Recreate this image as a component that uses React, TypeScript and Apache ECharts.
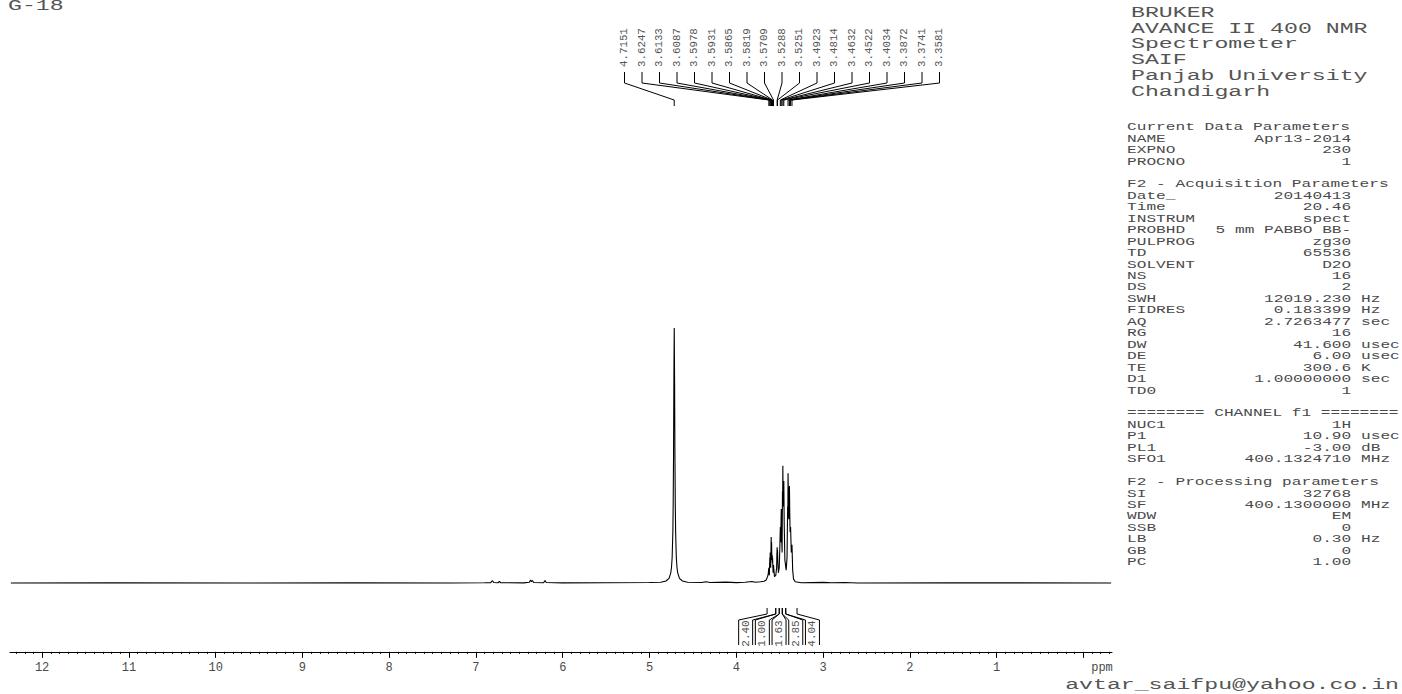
import React, { useEffect, useRef } from "react";
import * as echarts from "echarts";

// ---------- data ----------
const sampleName = "G-18";
const footerText = "avtar_saifpu@yahoo.co.in";
const axisUnit = "ppm";

// x axis (ppm, drawn right-to-left)
const ppmMin = -0.33;
const ppmMax = 12.37;
const majorTickValues = [0, 1, 2, 3, 4, 5, 6, 7, 8, 9, 10, 11, 12];
const axisLabelValues = [1, 2, 3, 4, 5, 6, 7, 8, 9, 10, 11, 12];

// spectrum segments: [ppm, intensity] (water peak top = 100)
const baselineLeft = [
  [12.36, 0], [11.2, 0.05], [9.6, 0], [8.4, 0.05], [7.3, 0], [6.9, 0.1],
];
const aromaticBumps = [
  [6.83, 0.15], [6.81, 0.9], [6.795, 0.2], [6.745, 0.1], [6.73, 0.6], [6.715, 0.1],
  [6.45, 0.05], [6.385, 0.3], [6.37, 1.2], [6.36, 0.5], [6.35, 1.0], [6.335, 0.2],
  [6.22, 0.1], [6.205, 1.0], [6.19, 0.2], [6.0, 0.05], [5.5, 0.1], [5.0, 0.2],
];
const waterPeak = [
  [4.87, 0.3], [4.81, 0.8], [4.775, 1.8], [4.755, 4], [4.747, 6], [4.739, 10],
  [4.731, 20], [4.727, 31], [4.723, 50], [4.719, 80], [4.7151, 100], [4.711, 80],
  [4.707, 50], [4.703, 31], [4.699, 20], [4.691, 10], [4.683, 6], [4.675, 4],
  [4.655, 1.8], [4.62, 0.8], [4.56, 0.3],
];
const midBumps = [
  [4.4, 0.2], [4.35, 0.5], [4.3, 0.2], [4.12, 0.35], [4.0, 0.15], [3.9, 0.3],
  [3.82, 0.6], [3.78, 0.3], [3.72, 0.5], [3.68, 0.7],
];
const sugarCluster = [
  [3.655, 1.2], [3.64, 2.5], [3.632, 3.5], [3.6247, 6], [3.619, 3], [3.6133, 10],
  [3.611, 7], [3.6087, 12], [3.603, 6], [3.5978, 18], [3.5955, 12], [3.5931, 16],
  [3.59, 9], [3.5865, 11], [3.584, 8], [3.5819, 10], [3.576, 4], [3.5709, 7],
  [3.56, 2.5], [3.545, 3], [3.535, 6], [3.532, 11], [3.5288, 14], [3.527, 10],
  [3.5251, 13], [3.522, 9], [3.515, 4], [3.505, 6], [3.498, 14], [3.4923, 22],
  [3.487, 16], [3.4835, 26], [3.4814, 29], [3.478, 20], [3.472, 12], [3.4675, 36],
  [3.4655, 30], [3.4632, 46], [3.461, 34], [3.458, 30], [3.4545, 38], [3.4522, 40],
  [3.448, 24], [3.44, 9], [3.425, 5], [3.415, 10], [3.408, 30], [3.4055, 26],
  [3.4034, 43], [3.4, 34], [3.395, 25], [3.391, 34], [3.3872, 38], [3.384, 28],
  [3.38, 20], [3.3741, 22], [3.366, 12], [3.3581, 15], [3.35, 5], [3.34, 1.5],
  [3.32, 0.5],
];
const baselineRight = [
  [3.25, 0.1], [3.0, 0.25], [2.9, 0.1], [2.75, 0.2], [2.6, 0], [1.5, 0.05], [-0.32, 0],
];

// peak picking labels
const peakLabels = [
  "4.7151", "3.6247", "3.6133", "3.6087", "3.5978", "3.5931", "3.5865", "3.5819",
  "3.5709", "3.5288", "3.5251", "3.4923", "3.4814", "3.4632", "3.4522", "3.4034",
  "3.3872", "3.3741", "3.3581",
];

// integrals
const integralFrom = [3.645, 3.545, 3.505, 3.47, 3.43];
const integralTo = [3.545, 3.505, 3.47, 3.43, 3.3];
const integralValues = ["2.40", "1.00", "1.63", "2.85", "4.04"];

// parameter panel
const headerLines = [
  "BRUKER", "AVANCE II 400 NMR", "Spectrometer", "SAIF", "Panjab University", "Chandigarh",
];
const paramRows: [string, string, string][] = [
  ["Current Data Parameters", "", ""],
  ["NAME", "Apr13-2014", ""],
  ["EXPNO", "230", ""],
  ["PROCNO", "1", ""],
  ["", "", ""],
  ["F2 - Acquisition Parameters", "", ""],
  ["Date_", "20140413", ""],
  ["Time", "20.46", ""],
  ["INSTRUM", "spect", ""],
  ["PROBHD", "5 mm PABBO BB-", ""],
  ["PULPROG", "zg30", ""],
  ["TD", "65536", ""],
  ["SOLVENT", "D2O", ""],
  ["NS", "16", ""],
  ["DS", "2", ""],
  ["SWH", "12019.230", "Hz"],
  ["FIDRES", "0.183399", "Hz"],
  ["AQ", "2.7263477", "sec"],
  ["RG", "16", ""],
  ["DW", "41.600", "usec"],
  ["DE", "6.00", "usec"],
  ["TE", "300.6", "K"],
  ["D1", "1.00000000", "sec"],
  ["TD0", "1", ""],
  ["", "", ""],
  ["======== CHANNEL f1 ========", "", ""],
  ["NUC1", "1H", ""],
  ["P1", "10.90", "usec"],
  ["PL1", "-3.00", "dB"],
  ["SFO1", "400.1324710", "MHz"],
  ["", "", ""],
  ["F2 - Processing parameters", "", ""],
  ["SI", "32768", ""],
  ["SF", "400.1300000", "MHz"],
  ["WDW", "EM", ""],
  ["SSB", "0", ""],
  ["LB", "0.30", "Hz"],
  ["GB", "0", ""],
  ["PC", "1.00", ""],
];

// ---------- styling ----------
const MONO = '"Liberation Mono", "DejaVu Sans Mono", monospace';
const TEXT_COLOR = "#4a4a4a";
const BIG_COLOR = "#555555";

function buildMinorTicks(): number[] {
  const out: number[] = [];
  for (let k = -3; k <= 123; k++) {
    if (k % 10 !== 0) out.push(k / 10);
  }
  return out;
}

function buildGraphic() {
  const els: any[] = [];
  const bigSize = 14.5;
  const bigScale = 1.6;
  const smallSize = 11;
  const smallScale = 1.47;
  const smallX0 = 1127;
  const charW = 9.75;

  els.push({
    type: "text",
    x: 8,
    y: 6,
    scaleX: bigScale,
    style: {
      text: sampleName, font: `${bigSize}px ${MONO}`, fill: BIG_COLOR,
      align: "left", verticalAlign: "middle", textAlign: "left", textVerticalAlign: "middle",
    },
  });

  headerLines.forEach((t, i) => {
    els.push({
      type: "text",
      x: 1131,
      y: 13 + i * 15.8,
      scaleX: bigScale,
      style: {
        text: t, font: `${bigSize}px ${MONO}`, fill: BIG_COLOR,
        align: "left", verticalAlign: "middle", textAlign: "left", textVerticalAlign: "middle",
      },
    });
  });

  paramRows.forEach((row, i) => {
    const y = 127 + i * 11.45;
    const [label, value, unit] = row;
    const base = { font: `${smallSize}px ${MONO}`, fill: TEXT_COLOR, verticalAlign: "middle", textVerticalAlign: "middle" };
    if (label) {
      els.push({ type: "text", x: smallX0, y, scaleX: smallScale, style: { ...base, text: label, align: "left", textAlign: "left" } });
    }
    if (value) {
      els.push({ type: "text", x: smallX0 + 23 * charW, y, scaleX: smallScale, style: { ...base, text: value, align: "right", textAlign: "right" } });
    }
    if (unit) {
      els.push({ type: "text", x: smallX0 + 24 * charW, y, scaleX: smallScale, style: { ...base, text: unit, align: "left", textAlign: "left" } });
    }
  });

  els.push({
    type: "text",
    x: 1102,
    y: 668,
    style: {
      text: axisUnit, font: `12px ${MONO}`, fill: TEXT_COLOR,
      align: "center", verticalAlign: "middle", textAlign: "center", textVerticalAlign: "middle",
    },
  });

  els.push({
    type: "text",
    x: 1399,
    y: 685,
    scaleX: bigScale,
    style: {
      text: footerText, font: `${bigSize}px ${MONO}`, fill: BIG_COLOR,
      align: "right", verticalAlign: "middle", textAlign: "right", textVerticalAlign: "middle",
    },
  });
  return els;
}

export default function App() {
  const ref = useRef<HTMLDivElement>(null);

  useEffect(() => {
    if (!ref.current) return;
    const chart = echarts.init(ref.current, undefined, { renderer: "svg" });

    const spectrum = [
      ...baselineLeft, ...aromaticBumps, ...waterPeak, ...midBumps, ...sugarCluster, ...baselineRight,
    ];
    const peakData = peakLabels.map((s, i) => [Number(s), 0, i]);
    const integralData = integralFrom.map((f, i) => [f, integralTo[i], i]);

    const labelSpacing = 17.5;
    const labelCenterX = 782;

    const option: any = {
      animation: false,
      backgroundColor: "#ffffff",
      grid: { left: 10, right: 290, top: 98.5, bottom: 42.15, containLabel: false },
      xAxis: [
        {
          type: "value",
          inverse: true,
          min: ppmMin,
          max: ppmMax,
          position: "bottom",
          axisLine: { show: true, onZero: false, lineStyle: { color: "#000", width: 1 } },
          axisTick: { show: true, customValues: majorTickValues, length: 6, lineStyle: { color: "#000", width: 1 } },
          axisLabel: {
            show: true, customValues: axisLabelValues, fontFamily: MONO, fontSize: 12,
            color: TEXT_COLOR, margin: 10,
          },
          splitLine: { show: false },
        },
        {
          type: "value",
          inverse: true,
          min: ppmMin,
          max: ppmMax,
          position: "bottom",
          axisLine: { show: false, onZero: false },
          axisTick: { show: true, customValues: buildMinorTicks(), length: 2, lineStyle: { color: "#000", width: 1 } },
          axisLabel: { show: false },
          splitLine: { show: false },
        },
      ],
      yAxis: { type: "value", min: -27, max: 190, show: false },
      series: [
        {
          type: "line",
          data: spectrum,
          xAxisIndex: 0,
          yAxisIndex: 0,
          showSymbol: false,
          symbol: "none",
          silent: true,
          lineStyle: { color: "#000", width: 1.1 },
          z: 3,
        },
        {
          type: "custom",
          xAxisIndex: 0,
          yAxisIndex: 0,
          clip: false,
          silent: true,
          data: peakData,
          renderItem: (params: any, api: any) => {
            const i = api.value(2);
            const p = api.coord([api.value(0), 0]);
            const lx = labelCenterX + (i - (peakLabels.length - 1) / 2) * labelSpacing;
            return {
              type: "group",
              children: [
                {
                  type: "polyline",
                  shape: { points: [[lx, 72], [lx, 83], [p[0], 100], [p[0], 106]] },
                  style: { stroke: "#000", lineWidth: 1, fill: "none" },
                },
                {
                  type: "text",
                  x: lx,
                  y: 67,
                  rotation: Math.PI / 2,
                  scaleX: 1.08,
                  style: {
                    text: peakLabels[i], font: `10px ${MONO}`, fill: "#555",
                    align: "left", verticalAlign: "middle", textAlign: "left", textVerticalAlign: "middle",
                  },
                },
              ],
            };
          },
        },
        {
          type: "custom",
          xAxisIndex: 0,
          yAxisIndex: 0,
          clip: false,
          silent: true,
          data: integralData,
          renderItem: (params: any, api: any) => {
            const i = api.value(2);
            const a = api.coord([api.value(0), 0]);
            const b = api.coord([api.value(1), 0]);
            const first = api.coord([integralFrom[0], 0]);
            const last = api.coord([integralTo[integralTo.length - 1], 0]);
            const mid = (first[0] + last[0]) / 2 - 3;
            const step = 16.7;
            const boxW = 14;
            const cx = mid + (i - (integralValues.length - 1) / 2) * step;
            const bl = cx - boxW / 2;
            const br = cx + boxW / 2;
            const by = a[1];
            const top = by + 25;
            const bend = by + 31;
            const boxTop = by + 37;
            const boxBot = by + 62;
            return {
              type: "group",
              children: [
                {
                  type: "polyline",
                  shape: { points: [[a[0], top], [a[0], bend], [bl, boxTop], [bl, boxBot]] },
                  style: { stroke: "#000", lineWidth: 1, fill: "none" },
                },
                {
                  type: "polyline",
                  shape: { points: [[b[0], top], [b[0], bend], [br, boxTop], [br, boxBot]] },
                  style: { stroke: "#000", lineWidth: 1, fill: "none" },
                },
                {
                  type: "text",
                  x: cx,
                  y: (boxTop + boxBot) / 2 + 1,
                  rotation: Math.PI / 2,
                  scaleX: 1.1,
                  style: {
                    text: integralValues[i], font: `10px ${MONO}`, fill: "#555",
                    align: "center", verticalAlign: "middle", textAlign: "center", textVerticalAlign: "middle",
                  },
                },
              ],
            };
          },
        },
      ],
      graphic: buildGraphic(),
    };

    chart.setOption(option);
    return () => {
      chart.dispose();
    };
  }, []);

  return (
    <div
      ref={ref}
      style={{ position: "fixed", left: 0, top: 0, width: 1402, height: 694, background: "#fff" }}
    />
  );
}
